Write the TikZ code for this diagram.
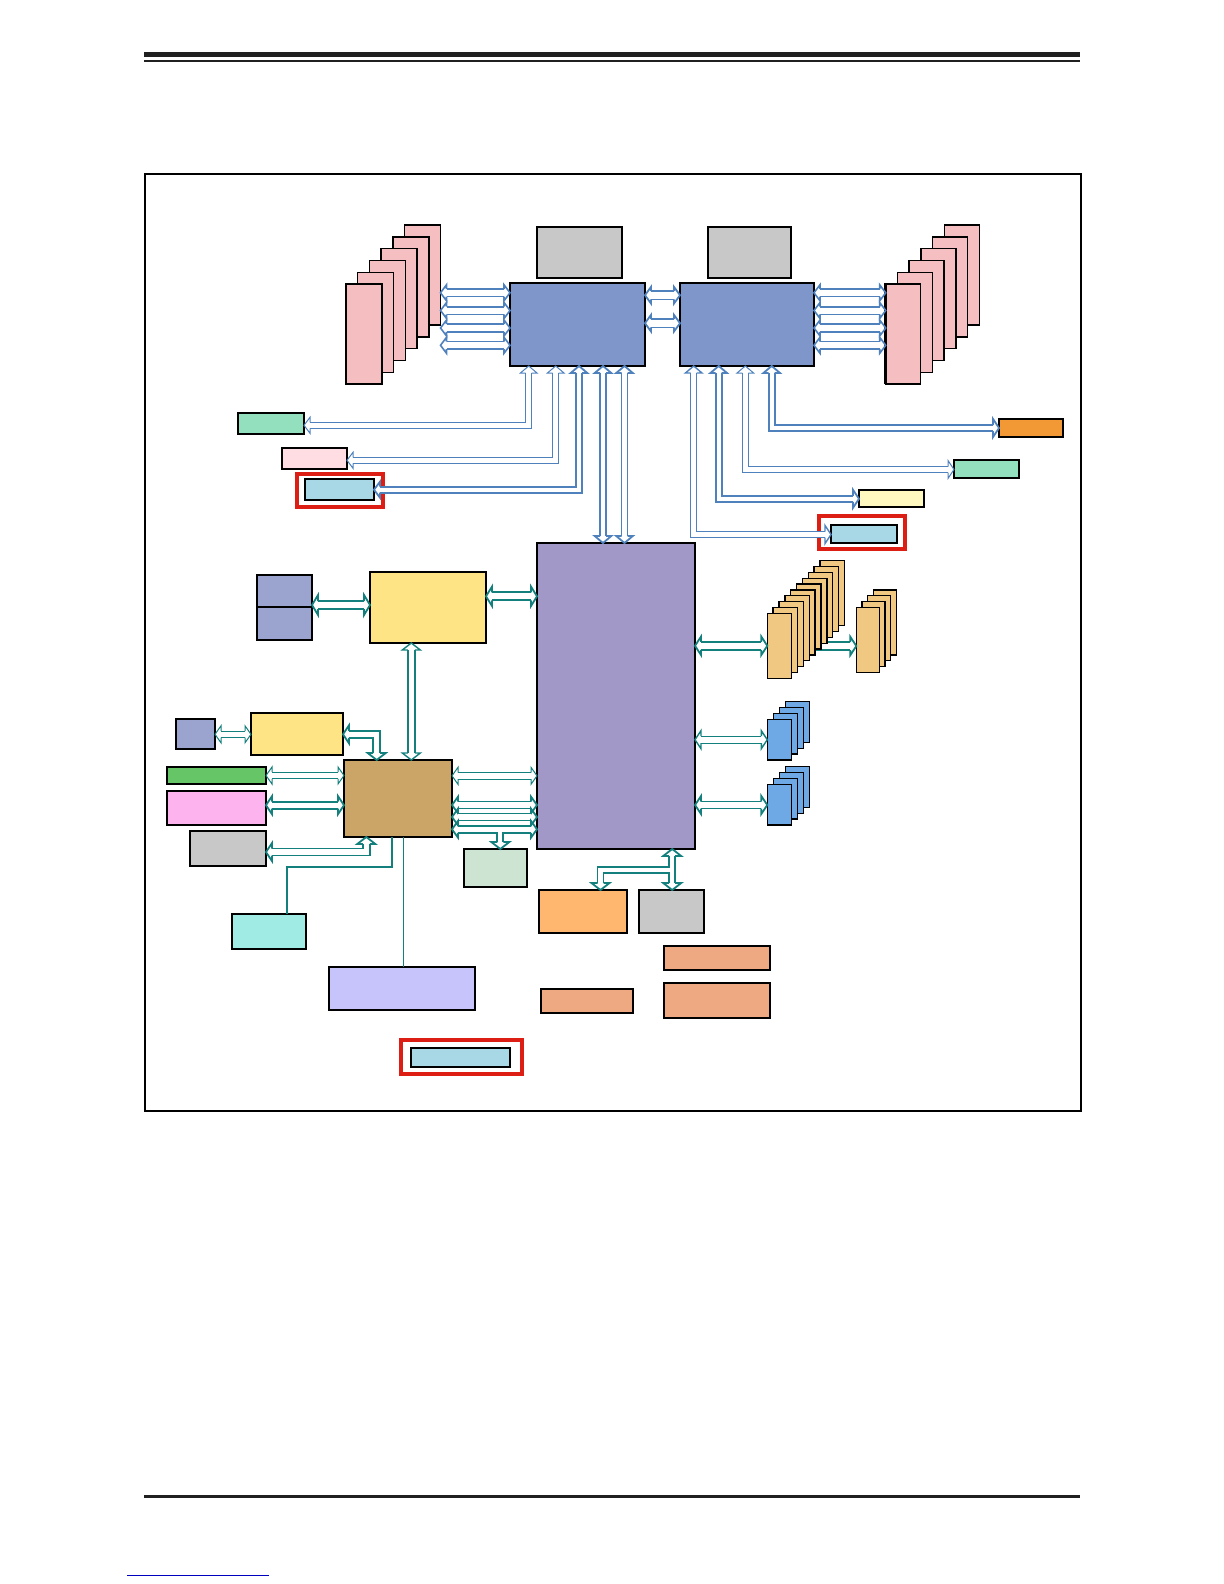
\documentclass[tikz,border=0pt]{standalone}
\usetikzlibrary{calc,backgrounds}
\definecolor{dimm}{RGB}{245,190,193}
\definecolor{gry}{RGB}{200,200,200}
\definecolor{cpuc}{RGB}{127,150,203}
\definecolor{mint}{RGB}{146,224,190}
\definecolor{lpink}{RGB}{255,221,227}
\definecolor{lblue}{RGB}{168,216,229}
\definecolor{orng}{RGB}{242,152,53}
\definecolor{lyel}{RGB}{255,248,191}
\definecolor{pchc}{RGB}{162,152,200}
\definecolor{bgray}{RGB}{154,164,207}
\definecolor{yel}{RGB}{255,228,134}
\definecolor{tanc}{RGB}{240,200,130}
\definecolor{drv}{RGB}{110,168,229}
\definecolor{brnc}{RGB}{203,164,104}
\definecolor{bgrn}{RGB}{102,197,102}
\definecolor{magc}{RGB}{253,180,238}
\definecolor{cync}{RGB}{160,236,228}
\definecolor{lavc}{RGB}{199,195,251}
\definecolor{pgrn}{RGB}{205,228,211}
\definecolor{lorg}{RGB}{255,182,111}
\definecolor{salm}{RGB}{239,169,130}
\definecolor{frm}{RGB}{220,30,20}
\definecolor{arrb}{RGB}{79,129,189}
\definecolor{arrt}{RGB}{20,128,126}
\definecolor{rulec}{RGB}{32,32,32}
\tikzset{
 box/.style={draw=black,line width=0.7pt,inner sep=0pt,outer sep=0pt,rectangle},
 thk/.style={draw=black,line width=1.4pt},
 redframe/.style={draw=frm,line width=1.6pt,fill=none},
 bD/.style={draw=arrb,line width=0.8pt,double=white,double distance=3.0pt},
 bC/.style={draw=arrb,line width=0.9pt,double=white,double distance=3.3pt},
 bT/.style={draw=arrb,line width=0.5pt,double=white,double distance=2.5pt},
 bK/.style={draw=arrb,line width=0.9pt,double=white,double distance=2.1pt},
 bM/.style={draw=arrb,line width=0.7pt,double=white,double distance=2.3pt},
 tT/.style={draw=arrt,line width=0.5pt,double=white,double distance=2.8pt},
 tK/.style={draw=arrt,line width=0.9pt,double=white,double distance=2.6pt},
 tM/.style={draw=arrt,line width=0.7pt,double=white,double distance=2.8pt},
 tW/.style={draw=arrt,line width=0.9pt,double=white,double distance=3.1pt},
 tS/.style={draw=arrt,line width=0.9pt,double=white,double distance=2.1pt},
 hbD/.style={draw=arrb,line width=0.8pt},
 hbC/.style={draw=arrb,line width=0.9pt},
 hbT/.style={draw=arrb,line width=0.5pt},
 hbK/.style={draw=arrb,line width=0.9pt},
 hbM/.style={draw=arrb,line width=0.7pt},
 htT/.style={draw=arrt,line width=0.5pt},
 htK/.style={draw=arrt,line width=0.9pt},
 htM/.style={draw=arrt,line width=0.7pt},
 htW/.style={draw=arrt,line width=0.9pt},
 htS/.style={draw=arrt,line width=0.9pt},
 tline/.style={draw=arrt,line width=1.2pt},
 tthin/.style={draw=arrt,line width=0.5pt},
}
% box node from corner coordinates (px units)
\newcommand\bx[6]{\node[box,#6,minimum width={((#4)-(#2))*0.5pt},minimum height={((#5)-(#3))*0.5pt}] (#1) at ({((#2)+(#4))/2},{((#3)+(#5))/2}) {};}
% hollow arrow head: style, tip, angle, length, half width, shaft half width
\newcommand\AH[6]{\draw[#1,shift={#2},rotate=#3,line join=miter] (-#4,#6)--(-#4,#5)--(0,0)--(-#4,-#5)--(-#4,-#6);}
% horizontal double-headed arrow: shaft, head, left anchor, right anchor, y, L, h, s
\newcommand\harr[8]{%
 \draw[#1] ($(#3 |- 0,#5)+(#6,0)$) -- ($(#4 |- 0,#5)-(#6,0)$);
 \AH{#2}{(#3 |- 0,#5)}{180}{#6}{#7}{#8}%
 \AH{#2}{(#4 |- 0,#5)}{0}{#6}{#7}{#8}}
% vertical double-headed arrow: shaft, head, top anchor, bottom anchor, x, L, h, s
\newcommand\varr[8]{%
 \draw[#1] ($(#5,0 |- #3)+(0,#6)$) -- ($(#5,0 |- #4)-(0,#6)$);
 \AH{#2}{(#5,0 |- #3)}{90}{#6}{#7}{#8}%
 \AH{#2}{(#5,0 |- #4)}{-90}{#6}{#7}{#8}}
\begin{document}
\begin{tikzpicture}[x=0.5pt,y=-0.5pt]
\useasboundingbox (0,0) rectangle (1224,1584);
% page rules
\fill[rulec] (144,52.5) rectangle (1080,57);
\fill[rulec] (144,60) rectangle (1080,62);
\fill[rulec] (144,1495) rectangle (1080,1497.5);
\draw[blue!75!black,line width=0.5pt] (127,1575) -- (269,1575);
\draw[black,line width=0.75pt] (145,174) rectangle (1081,1111);

% ---- boxes ----
\bx{gy1}{537}{227}{622}{278}{fill=gry}
\bx{gy2}{708}{227}{791}{278}{fill=gry}
\bx{cpu1}{510}{283}{645}{366}{fill=cpuc}
\bx{cpu2}{680}{283}{814}{366}{fill=cpuc}
\foreach \i in {5,4,...,0}{\bx{dl\i}{346+11.7*\i}{284-11.8*\i}{382+11.7*\i}{384-11.8*\i}{fill=dimm}}
\foreach \i in {5,4,...,0}{\bx{dr\i}{885.7+11.7*\i}{284-11.8*\i}{920.7+11.7*\i}{384-11.8*\i}{fill=dimm}}
\bx{grn1}{238}{413}{304}{434}{fill=mint}
\bx{lpk}{282}{448}{347}{469}{fill=lpink}
\bx{lb1}{305}{479}{374}{500}{fill=lblue}
\bx{org}{999}{419}{1063}{437}{fill=orng}
\bx{grn2}{954}{460}{1019}{478}{fill=mint}
\bx{lyl}{859}{490}{924}{507}{fill=lyel}
\bx{lb2}{831}{525}{897}{543}{fill=lblue}
\bx{pch}{537}{543}{695}{849}{fill=pchc,line width=1.1pt}
\bx{sb1}{257}{575}{312}{607}{fill=bgray}
\bx{sb2}{257}{607}{312}{640}{fill=bgray}
\bx{bmc}{370}{572}{486}{643}{fill=yel}
\bx{sbl}{176}{719}{215}{749}{fill=bgray}
\bx{yl2}{251}{713}{343}{755}{fill=yel,line width=1.3pt}
\bx{brn}{344}{760}{452}{837}{fill=brnc}
\bx{bgr}{167}{767}{266}{784}{fill=bgrn}
\bx{mag}{167}{791}{266}{825}{fill=magc}
\bx{gy3}{190}{831}{266}{866}{fill=gry}
\bx{cyn}{232}{914}{306}{949}{fill=cync}
\bx{lav}{329}{967}{475}{1010}{fill=lavc,line width=1.3pt}
\bx{pgr}{464}{849}{527}{887}{fill=pgrn}
\bx{lor}{539}{890}{627}{933}{fill=lorg}
\bx{gy4}{639}{890}{704}{933}{fill=gry}
\bx{sa1}{664}{946}{770}{970}{fill=salm}
\bx{sa2}{664}{983}{770}{1018}{fill=salm}
\bx{sa3}{541}{989}{633}{1013}{fill=salm,line width=1.2pt}
\bx{lb3}{411}{1048}{510}{1067}{fill=lblue}
\bx{rf1}{297}{474}{383}{507}{redframe}
\bx{rf2}{819}{516}{905}{549}{redframe}
\bx{rf3}{401}{1040}{522}{1074}{redframe}
\foreach \i in {9,8,...,0}{\bx{tA\i}{767.3+5.85*\i}{613.3-5.85*\i}{791.7+5.85*\i}{678.3-5.85*\i}{fill=tanc}}
\foreach \i in {3,2,1,0}{\bx{tB\i}{856.3+5.67*\i}{607.3-5.77*\i}{879.3+5.67*\i}{672.3-5.77*\i}{fill=tanc}}
\foreach \i in {3,2,1,0}{\bx{bA\i}{767.3+6*\i}{719.3-5.9*\i}{791.3+6*\i}{760-5.9*\i}{fill=drv}}
\foreach \i in {3,2,1,0}{\bx{bB\i}{767.3+6*\i}{784.3-5.9*\i}{791.3+6*\i}{825-5.9*\i}{fill=drv}}

% thick edges
\draw[thk] (dl0.south west)--(dl0.north west)--(dl0.north east);
\draw[thk] (dr0.south west)--(dr0.north west)--(dr0.north east);
\draw[thk] (cpu1.north west)--(cpu1.north east);
\draw[thk] (cpu2.north west)--(cpu2.north east);
\draw[thk] (gy1.south west)--(gy1.south east);
\draw[thk] (gy2.south west)--(gy2.south east);
\draw[thk] (lb1.south west)--(lb1.north west);
\draw[thk] (lb2.south west)--(lb2.south east);
\draw[thk] (lb3.north east)--(lb3.south east);
\draw[thk] (org.south west)--(org.south east);
\draw[thk] (lpk.south west)--(lpk.north west);
\draw[thk] (sb1.north east)--(sb2.south east)--(sb2.south west);
\draw[thk] (sbl.south west)--(sbl.south east);
\draw[thk] (pgr.south west)--(pgr.north west);

% ---- blue connectors ----
\foreach \y in {292.8,310.5,328,345.3}{\harr{bD}{hbD}{dl5.east}{cpu1.west}{\y}{6}{8}{3.8}}
\foreach \y in {292.8,310.5,328,345.3}{\harr{bD}{hbD}{cpu2.east}{dr0.west}{\y}{6}{8}{3.8}}
\harr{bC}{hbC}{cpu1.east}{cpu2.west}{295.2}{6}{8.3}{4.2}
\harr{bC}{hbC}{cpu1.east}{cpu2.west}{323.2}{6}{8.3}{4.2}
% CPU1 -> left devices
\draw[bT] ($(528.7,0 |- cpu1.south)+(0,7)$) |- ($(grn1.east |- 0,425.3)+(6,0)$);
\AH{hbT}{(528.7,0 |- cpu1.south)}{90}{7}{8.3}{3}
\AH{hbT}{(grn1.east |- 0,425.3)}{180}{6}{8}{3}
\draw[bT] ($(555.7,0 |- cpu1.south)+(0,7)$) |- ($(lpk.east |- 0,460.3)+(6,0)$);
\AH{hbT}{(555.7,0 |- cpu1.south)}{90}{7}{8.3}{3}
\AH{hbT}{(lpk.east |- 0,460.3)}{180}{6}{8}{3}
\draw[bK] ($(579,0 |- cpu1.south)+(0,7)$) |- ($(lb1.east |- 0,489.7)+(6,0)$);
\AH{hbK}{(579,0 |- cpu1.south)}{90}{7}{8.3}{3}
\AH{hbK}{(lb1.east |- 0,489.7)}{180}{6}{8}{3}
\varr{bK}{hbK}{cpu1.south}{pch.north}{603}{7}{8.3}{3}
\varr{bK}{hbK}{cpu1.south}{pch.north}{624.5}{7}{8.3}{3}
% CPU2 -> right devices
\draw[bK] ($(771.7,0 |- cpu2.south)+(0,7)$) |- ($(org.west |- 0,428)-(6,0)$);
\AH{hbK}{(771.7,0 |- cpu2.south)}{90}{7}{8.3}{3}
\AH{hbK}{(org.west |- 0,428)}{0}{6}{9}{3}
\draw[bT] ($(745.3,0 |- cpu2.south)+(0,7)$) |- ($(grn2.west |- 0,469.5)-(6,0)$);
\AH{hbT}{(745.3,0 |- cpu2.south)}{90}{7}{8.3}{3}
\AH{hbT}{(grn2.west |- 0,469.5)}{0}{6}{9}{3}
\draw[bK] ($(718.7,0 |- cpu2.south)+(0,7)$) |- ($(lyl.west |- 0,498.8)-(6,0)$);
\AH{hbK}{(718.7,0 |- cpu2.south)}{90}{7}{8.3}{3}
\AH{hbK}{(lyl.west |- 0,498.8)}{0}{6}{9}{3}
\draw[bM] ($(693.7,0 |- cpu2.south)+(0,7)$) |- ($(lb2.west |- 0,534.5)-(6,0)$);
\AH{hbM}{(693.7,0 |- cpu2.south)}{90}{7}{8.3}{3}
\AH{hbM}{(lb2.west |- 0,534.5)}{0}{6}{9}{3}

% ---- teal connectors ----
\harr{tW}{htW}{sb1.east}{bmc.west}{605}{6}{10}{4}
\harr{tW}{htW}{bmc.east}{pch.west}{596.3}{6}{9.7}{4}
\varr{tM}{htM}{bmc.south}{brn.north}{411.3}{7}{9}{3.5}
\harr{tT}{htT}{sbl.east}{yl2.west}{734.3}{6}{8.5}{3.3}
\draw[tK] ($(yl2.east |- 0,734.3)+(6,0)$) -| ($(376.7,0 |- brn.north)-(0,7)$);
\AH{htK}{(yl2.east |- 0,734.3)}{180}{6}{9}{3.5}
\AH{htK}{(376.7,0 |- brn.north)}{-90}{7}{9}{3.5}
\harr{tT}{htT}{bgr.east}{brn.west}{775.5}{6}{8.5}{3.3}
\harr{tK}{htK}{mag.east}{brn.west}{805.2}{6}{9}{3.5}
\draw[tK] ($(366.3,0 |- brn.south)+(0,7)$) |- ($(gy3.east |- 0,852)+(6,0)$);
\AH{htK}{(366.3,0 |- brn.south)}{90}{7}{9}{3.5}
\AH{htK}{(gy3.east |- 0,852)}{180}{6}{9}{3.5}
\coordinate (cyk) at (286.7,866.7);
\draw[tline] (392,0 |- brn.south) |- (cyk) -- (cyk |- cyn.north);
\draw[tthin] (403.3,0 |- brn.south) -- (403.3,0 |- lav.north);
\harr{tT}{htT}{brn.east}{pch.west}{775.8}{6}{8.5}{3.3}
\harr{tK}{htK}{brn.east}{pch.west}{805}{6}{8.3}{3.5}
\harr{tK}{htK}{brn.east}{pch.west}{817}{6}{8.3}{3.5}
\harr{tK}{htK}{brn.east}{pch.west}{829.3}{6}{8.3}{3.5}
\coordinate (brb) at (500.3,831.9);
\draw[tS] (brb) -- ($(500.3,0 |- pgr.north)-(0,7)$);
\AH{htS}{(500.3,0 |- pgr.north)}{-90}{7}{9}{3}
\varr{tS}{htS}{pch.south}{gy4.north}{672.2}{7}{9}{3}
\coordinate (pbr) at (670.1,869.7);
\draw[tS] (pbr) -| ($(600.5,0 |- lor.north)-(0,7)$);
\AH{htS}{(600.5,0 |- lor.north)}{-90}{7}{9}{3}
\harr{tW}{htW}{pch.east}{tA0.west}{645.8}{6}{9.2}{4}
\begin{pgfonlayer}{background}
\draw[tW] (tA0.center |- 0,646) -- ($(tB0.west |- 0,646)-(6,0)$);
\end{pgfonlayer}
\AH{htW}{(tB0.west |- 0,646)}{0}{6}{9.2}{4}
\harr{tM}{htM}{pch.east}{bA0.west}{739.7}{6}{9}{3.5}
\harr{tK}{htK}{pch.east}{bB0.west}{805}{6}{9}{3.5}
\end{tikzpicture}
\end{document}
